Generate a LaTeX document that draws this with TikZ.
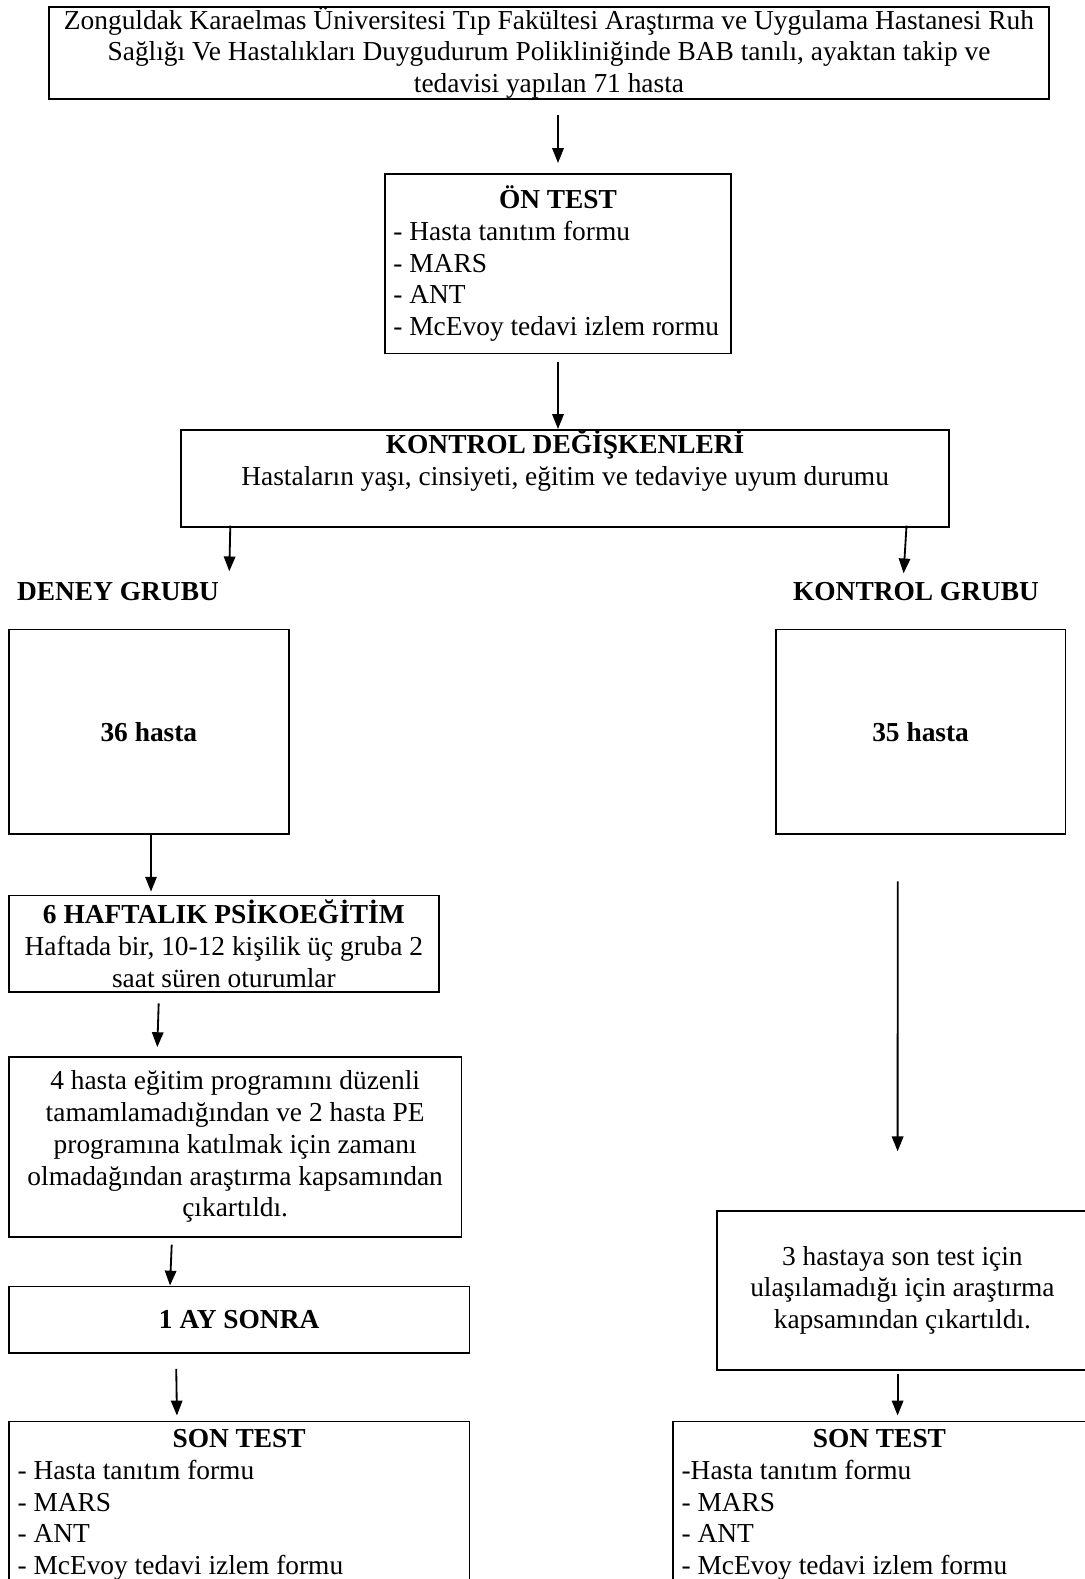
\documentclass[tikz,border=0pt]{standalone}
\usepackage{fontspec}
\setmainfont{Liberation Serif}
\usepackage{tikz}
\usetikzlibrary{arrows.meta,calc,positioning}

\begin{document}
\begin{tikzpicture}[x=0.438pt,y=-0.438pt,>={Triangle[length=6.5pt,width=5pt]},
    font=\fontsize{12}{13.9}\selectfont,every node/.style={align=center},
    box/.style={draw,line width=0.8pt,anchor=north west,inner sep=0pt},
    listbox/.style={draw,line width=0.8pt,anchor=north west,inner xsep=3.8pt,inner ysep=3.5pt,align=flush left},
    grp/.style={inner sep=0pt,font=\fontsize{12}{13.9}\selectfont\bfseries},
    arr/.style={->,line width=0.8pt}]
    \useasboundingbox (0,0) rectangle (1084,1579);
    \node[box,minimum width=437.7pt,minimum height=40.2pt] (hasta) at (48.4,6) {Zonguldak Karaelmas Üniversitesi Tıp Fakültesi Araştırma ve Uygulama Hastanesi Ruh\\Sağlığı Ve Hastalıkları Duygudurum Polikliniğinde BAB tanılı, ayaktan takip ve\\tedavisi yapılan 71 hasta};
    \node[listbox,text width=144.2pt,minimum height=78.5pt] (ontest) at (383.8,173.3) {\makebox[\hsize]{\textbf{ÖN TEST}}\\- Hasta tanıtım formu\\- MARS\\- ANT\\- McEvoy tedavi izlem rormu};
    \node[box,minimum width=336.3pt,minimum height=42.4pt] (kontdeg) at (180.3,429) {\textbf{KONTROL DEĞİŞKENLERİ}\\Hastaların yaşı, cinsiyeti, eğitim ve tedaviye uyum durumu\\\strut};
    \node[grp] (deney) at (118,592) {DENEY GRUBU};
    \node[grp] (kontgrup) at (916,592) {KONTROL GRUBU};
    \node[box,minimum width=122.6pt,minimum height=89.5pt] (b36) at (8,628.6) {\textbf{36 hasta}};
    \node[box,minimum width=127pt,minimum height=89.5pt] (b35) at (774.7,628.6) {\textbf{35 hasta}};
    \node[box,minimum width=188.3pt,minimum height=42.4pt] (pe) at (8,894.6) {\textbf{6 HAFTALIK PSİKOEĞİTİM}\\Haftada bir, 10-12 kişilik üç gruba 2\\saat süren oturumlar};
    \node[box,minimum width=198.2pt,minimum height=78.8pt] (exc1) at (8,1056) {4 hasta eğitim programını düzenli\\tamamlamadığından ve 2 hasta PE\\programına katılmak için zamanı\\olmadağından araştırma kapsamından\\çıkartıldı.};
    \node[box,minimum width=201.7pt,minimum height=29.1pt] (ay) at (8,1285.5) {\textbf{1 AY SONRA}};
    \node[listbox,text width=194.1pt] (son1) at (8,1420.5) {\makebox[\hsize]{\textbf{SON TEST}}\\- Hasta tanıtım formu\\- MARS\\- ANT\\- McEvoy tedavi izlem formu};
    \node[box,minimum width=162.5pt,minimum height=69.6pt] (exc2) at (716,1210) {3 hastaya son test için\\ulaşılamadığı için araştırma\\kapsamından çıkartıldı.};
    \node[listbox,text width=173.3pt] (son2) at (672,1420.5) {\makebox[\hsize]{\textbf{SON TEST}}\\-Hasta tanıtım formu\\- MARS\\- ANT\\- McEvoy tedavi izlem formu};
    \draw[arr,shorten <=6.6pt,shorten >=4.5pt] (hasta.south -| ontest.north) -- (ontest.north);
    \draw[arr,shorten <=3.5pt] (ontest.south) -- (ontest.south |- kontdeg.north);
    \draw[arr] ($(kontdeg.south west)+(50,-2)$) -- ($(deney.north east)+(10,-11)$);
    \draw[arr] ($(kontdeg.south east)+(-43.4,-2)$) -- ($(kontgrup.north)+(-12.4,-9)$);
    \draw[arr,shorten >=1.3pt] ($(b36.south west)+(143,0)$) -- ($(pe.north west)+(143,0)$);
    \draw[arr,shorten <=4.4pt,shorten >=3.9pt] ($(pe.south west)+(151,0)$) -- ($(exc1.north west)+(149,0)$);
    \draw[arr,shorten <=3pt] ($(exc1.south west)+(164,0)$) -- ($(ay.north west)+(162,0)$);
    \draw[arr,shorten <=6.6pt,shorten >=2.2pt] ($(ay.south west)+(168,0)$) -- ($(son1.north west)+(169,0)$);
    \draw[arr,shorten <=20.4pt,shorten >=25.7pt] ($(b35.south west)+(123,0)$) -- ($(exc2.north west)+(181.6,0)$);
    \draw[arr,shorten <=1.3pt,shorten >=2.2pt] ($(exc2.south west)+(181.6,0)$) -- ($(son2.north west)+(225.6,0)$);
\end{tikzpicture}
\end{document}
